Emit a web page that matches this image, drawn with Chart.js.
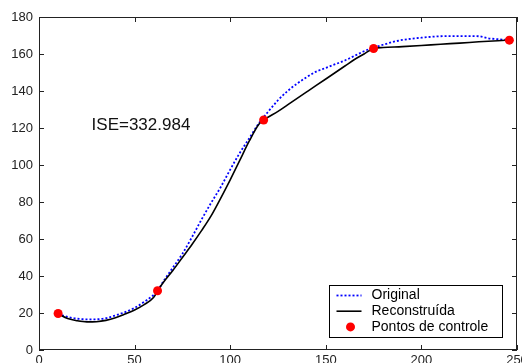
<!DOCTYPE html>
<html>
<head>
<meta charset="utf-8">
<script src="https://cdn.jsdelivr.net/npm/chart.js@4/dist/chart.umd.min.js"></script>
<style>
  html, body { margin: 0; padding: 0; background: #fff; }
  canvas { display: block; }
</style>
</head>
<body>
<canvas id="curveChart" width="522" height="363"></canvas>
<script>
// original curve
const origX = [10, 15, 20, 25, 30, 35, 40, 45, 50, 55, 62, 65, 70, 75, 80, 85, 90, 95, 100,
    105, 110, 115, 120, 125, 130, 135, 140, 145, 150, 155, 160, 165, 170, 175, 180, 185, 190,
    195, 200, 205, 210, 215, 220, 225, 230, 235, 240, 246];
const origY = [19.5, 17.9, 16.9, 16.6, 16.6, 17.2, 18.7, 20.5, 22.8, 26, 32, 37, 44.5, 52, 61, 70.5, 79.5, 88, 97.5,
    106.5, 114.5, 122.5, 129, 135, 140, 144, 147.5, 150.5, 152.5, 154.5, 156.5, 159, 161.5, 163.5, 165, 166.5, 167.6,
    168.3, 168.8, 169.3, 169.6, 169.7, 169.7, 169.7, 169.6, 168.5, 168, 167.5];

// reconstructed curve
const recX = [10, 15, 20, 25, 30, 35, 40, 45, 50, 55, 60, 62, 65, 70, 75, 80, 85, 90, 95, 100,
    105, 110, 115, 117.5, 125, 130, 135, 140, 145, 150, 155, 160, 165, 170, 175, 180, 190, 200,
    210, 220, 230, 240, 246];
const recY = [19.5, 17, 15.8, 15.2, 15.3, 16, 17.4, 19.4, 21.6, 24.5, 28.5, 32, 36.5, 43, 50, 57, 64.5, 72.5, 82, 92,
    102.5, 113, 122, 124.3, 129, 132.5, 136, 139.5, 143, 146.5, 150, 153.5, 157, 160, 163, 163.5, 164, 164.6,
    165.3, 165.9, 166.6, 167.2, 167.5];

// control points
const ctrlX = [10, 62, 117.5, 175, 246];
const ctrlY = [19.7, 32, 124.3, 163, 167.5];

const xTickValues = [0, 50, 100, 150, 200, 250];
const yTickValues = [0, 20, 40, 60, 80, 100, 120, 140, 160, 180];

const iseText = 'ISE=332.984';

const toPoints = (xs, ys) => xs.map((x, i) => ({ x: x, y: ys[i] }));
const FONT = '"Liberation Sans", Arial, sans-serif';

// axes box with inward ticks, ISE label and boxed legend
const decorations = {
    id: 'decorations',
    afterDraw(chart) {
        const ctx = chart.ctx;
        const area = chart.chartArea;
        const xs = chart.scales.x;
        const ys = chart.scales.y;
        ctx.save();
        ctx.strokeStyle = '#222';
        ctx.lineWidth = 1;
        ctx.strokeRect(area.left + 0.5, area.top + 0.5, area.right - area.left - 1, area.bottom - area.top - 1);
        ctx.beginPath();
        xTickValues.forEach(v => {
            const px = Math.round(xs.getPixelForValue(v)) + 0.5;
            ctx.moveTo(px, area.bottom); ctx.lineTo(px, area.bottom - 5);
            ctx.moveTo(px, area.top); ctx.lineTo(px, area.top + 5);
        });
        yTickValues.forEach(v => {
            const py = Math.round(ys.getPixelForValue(v)) + 0.5;
            ctx.moveTo(area.left, py); ctx.lineTo(area.left + 5, py);
            ctx.moveTo(area.right, py); ctx.lineTo(area.right - 5, py);
        });
        ctx.stroke();

        // ISE text
        ctx.fillStyle = '#111';
        ctx.font = '17px ' + FONT;
        ctx.textAlign = 'left';
        ctx.textBaseline = 'middle';
        ctx.fillText(iseText, xs.getPixelForValue(27.5), ys.getPixelForValue(121.5));

        // legend
        const boxW = 173, boxH = 52;
        const bx = Math.round(area.right - 15.5 - boxW) + 0.5;
        const by = Math.round(area.bottom - 13 - boxH) + 0.5;
        ctx.fillStyle = '#fff';
        ctx.fillRect(bx, by, boxW, boxH);
        ctx.strokeStyle = '#000';
        ctx.strokeRect(bx, by, boxW, boxH);
        ctx.font = '14px ' + FONT;
        const order = [1, 2, 0];
        order.forEach((di, row) => {
            const ds = chart.data.datasets[di];
            const cy = by + 10 + row * 15.7;
            if (ds.showLine) {
                ctx.beginPath();
                ctx.strokeStyle = ds.borderColor;
                ctx.lineWidth = ds.borderWidth;
                ctx.setLineDash(ds.borderDash || []);
                ctx.moveTo(bx + 7, cy);
                ctx.lineTo(bx + 32, cy);
                ctx.stroke();
                ctx.setLineDash([]);
            } else {
                ctx.beginPath();
                ctx.fillStyle = ds.pointBackgroundColor;
                ctx.arc(bx + 21, cy, ds.pointRadius, 0, Math.PI * 2);
                ctx.fill();
            }
            ctx.fillStyle = '#000';
            ctx.fillText(ds.label, bx + 42, cy);
        });
        ctx.restore();
    }
};

new Chart(document.getElementById('curveChart').getContext('2d'), {
    type: 'scatter',
    data: {
        datasets: [{
            label: 'Pontos de controle',
            data: toPoints(ctrlX, ctrlY),
            showLine: false,
            pointRadius: 4.5,
            pointBackgroundColor: '#ff0000',
            pointBorderColor: '#ff0000',
            pointBorderWidth: 0,
            order: 1
        }, {
            label: 'Original',
            data: toPoints(origX, origY),
            showLine: true,
            borderColor: '#0000ff',
            borderWidth: 1.8,
            borderDash: [2, 2],
            pointRadius: 0,
            cubicInterpolationMode: 'monotone',
            order: 3
        }, {
            label: 'Reconstruída',
            data: toPoints(recX, recY),
            showLine: true,
            borderColor: '#000000',
            borderWidth: 1.6,
            pointRadius: 0,
            cubicInterpolationMode: 'monotone',
            order: 2
        }]
    },
    options: {
        responsive: false,
        animation: false,
        layout: { padding: { top: 17, right: 5, left: 0, bottom: 0 } },
        plugins: {
            legend: { display: false },
            tooltip: { enabled: false }
        },
        scales: {
            x: {
                type: 'linear',
                min: 0,
                max: 250,
                grid: { display: false, drawTicks: false },
                border: { display: false },
                afterBuildTicks: scale => { scale.ticks = xTickValues.map(v => ({ value: v })); },
                afterFit: scale => { scale.height = 13; scale.paddingLeft = 0; scale.paddingRight = 0; },
                ticks: { padding: 3, color: '#222', font: { family: FONT, size: 13 }, maxRotation: 0 }
            },
            y: {
                min: 0,
                max: 180,
                grid: { display: false, drawTicks: false },
                border: { display: false },
                afterBuildTicks: scale => { scale.ticks = yTickValues.map(v => ({ value: v })); },
                afterFit: scale => { scale.width = 39; scale.paddingTop = 0; scale.paddingBottom = 0; },
                ticks: { padding: 6, color: '#222', font: { family: FONT, size: 13 } }
            }
        }
    },
    plugins: [decorations]
});
</script>
</body>
</html>
